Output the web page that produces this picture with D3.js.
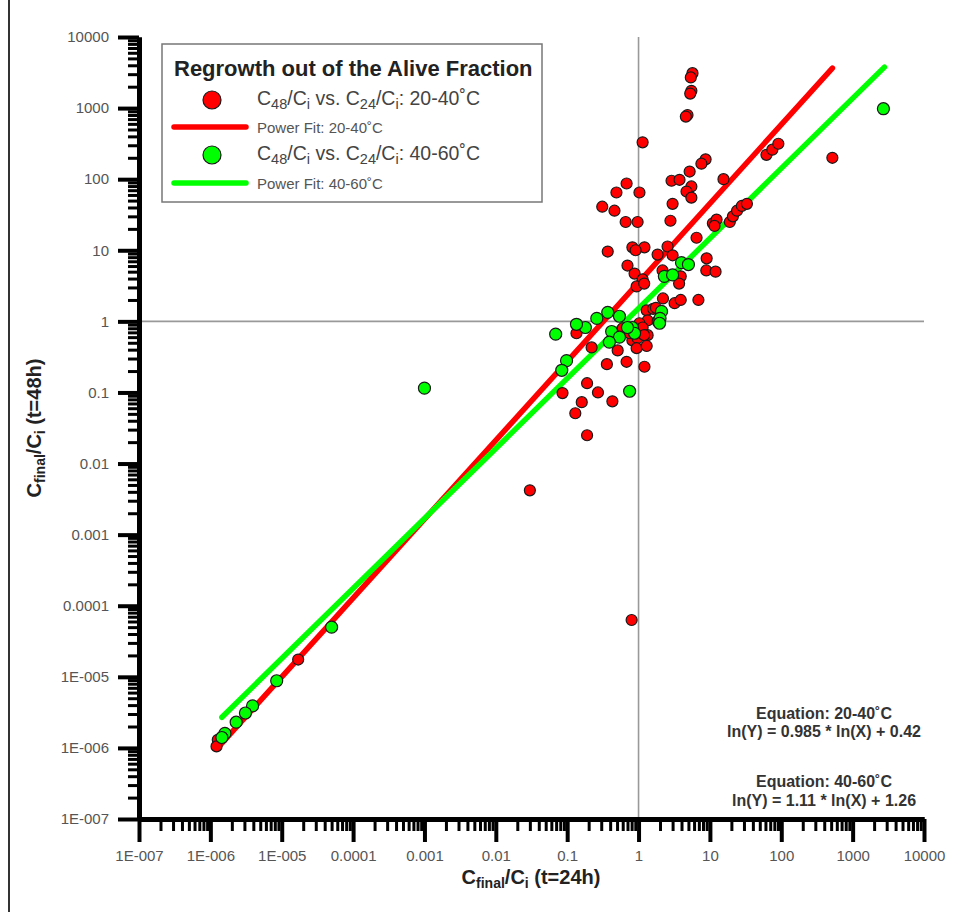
<!DOCTYPE html>
<html>
<head>
  <meta charset="utf-8">
  <title>Regrowth out of the Alive Fraction</title>
  <script src="https://d3js.org/d3.v7.min.js"></script>
  <style>
    body { margin: 0; background: #fff; }
    svg text { font-family: Arial, "Liberation Sans", sans-serif; }
    .tick text { fill: #555; font-size: 15px; }
  </style>
</head>
<body>
<svg id="chart" width="957" height="912"></svg>
<script>
  // axis ticks (both axes share the same decades)
  const tickValues = [1e-7, 1e-6, 1e-5, 1e-4, 1e-3, 0.01, 0.1, 1, 10, 100, 1000, 10000];
  const tickLabels = ["1E-007", "1E-006", "1E-005", "0.0001", "0.001", "0.01", "0.1", "1", "10", "100", "1000", "10000"];

  // C24/Ci (x) vs C48/Ci (y), 20-40°C
  const red2040 = [
    [5.7, 3100], [5.4, 2700], [5.5, 1750], [5.3, 1600], [4.85, 800], [4.6, 760], [1.14, 330],
    [8.7, 190], [7.6, 165], [5.2, 128], [2.9, 95], [3.75, 98], [0.68, 87], [0.49, 65], [1.03, 65],
    [5.5, 79], [4.7, 67], [5.5, 55], [0.31, 41], [0.46, 36], [3.0, 45], [0.66, 25], [0.97, 25],
    [2.8, 26], [15.5, 100], [62, 220], [75, 260], [91, 315], [520, 200], [6.5, 15],
    [11, 24], [12.4, 27], [19, 25], [21, 30], [24, 36], [28, 42], [33, 45], [11.6, 22],
    [0.37, 9.6], [0.82, 11], [1.21, 11], [0.91, 10], [1.85, 8.7], [2.55, 11.3], [3.0, 8.5],
    [9.0, 7.7], [8.9, 5.2], [12, 5.0], [0.70, 6.1], [0.88, 4.7], [2.17, 5.2], [3.9, 4.3],
    [3.7, 3.4], [1.14, 3.9], [0.94, 3.1], [1.2, 3.4], [2.2, 2.1], [3.2, 1.8], [3.9, 2.0],
    [6.9, 2.0], [1.3, 1.43], [1.6, 1.5], [1.34, 1.03], [1.75, 1.55], [1.85, 1.0], [1.03, 0.94],
    [1.14, 0.82], [1.34, 0.64], [0.82, 0.54], [0.75, 0.68], [0.6, 0.8], [0.97, 0.58], [1.2, 0.64],
    [0.135, 0.68], [0.22, 0.43], [0.51, 0.39], [0.94, 0.42], [1.3, 0.45], [0.36, 0.25],
    [0.68, 0.27], [1.21, 0.23], [0.19, 0.135], [0.086, 0.098], [0.27, 0.10], [0.16, 0.073],
    [0.43, 0.075], [0.13, 0.051], [0.19, 0.025], [0.03, 0.0042], [0.8, 6.3e-5],
    [1.7e-5, 1.75e-5], [1.27e-6, 1.3e-6], [1.22e-6, 1.05e-6]
  ];

  // 40-60°C
  const green4060 = [
    [2700, 980], [4.0, 6.7], [5.0, 6.3], [2.3, 4.3], [3.0, 4.5], [2.1, 1.38], [2.0, 1.1],
    [1.97, 0.94], [0.82, 0.82], [0.88, 0.68], [0.54, 1.18], [0.37, 1.34], [0.26, 1.1],
    [0.18, 0.82], [0.135, 0.91], [0.069, 0.66], [0.42, 0.72], [0.54, 0.6], [0.39, 0.51],
    [0.098, 0.28], [0.084, 0.205], [0.75, 0.104], [0.7, 0.82], [0.001, 0.115], [5e-5, 5e-5],
    [8.5e-6, 8.8e-6], [3.9e-6, 3.9e-6], [3.1e-6, 3.1e-6], [2.3e-6, 2.3e-6], [1.6e-6, 1.6e-6],
    [1.45e-6, 1.4e-6]
  ];

  // power fits as drawn: ln(Y) = slope * ln(X) + icpt, over the x range of each series
  const fitRed = { slope: 1.11, icpt: 1.26, xRange: [1.23e-6, 521] };
  const fitGreen = { slope: 0.985, icpt: 0.42, xRange: [1.45e-6, 2790] };

  const legendTitle = "Regrowth out of the Alive Fraction";
  const legendLabels = [
    "C_{48}/C_{i} vs. C_{24}/C_{i}: 20-40˚C",
    "Power Fit: 20-40˚C",
    "C_{48}/C_{i} vs. C_{24}/C_{i}: 40-60˚C",
    "Power Fit: 40-60˚C"
  ];
  const equations = [
    ["Equation: 20-40˚C", "ln(Y) = 0.985 * ln(X) + 0.42"],
    ["Equation: 40-60˚C", "ln(Y) = 1.11 * ln(X) + 1.26"]
  ];
  const xTitle = "C_{final}/C_{i} (t=24h)";
  const yTitle = "C_{final}/C_{i} (t=48h)";

  const svg = d3.select("#chart");

  const x = d3.scaleLog().domain([1e-7, 1e4]).range([139, 924]);
  const y = d3.scaleLog().domain([1e-7, 1e4]).range([819, 37]);

  // minor ticks 2..9 in every decade
  const minorTicks = [];
  tickValues.slice(0, -1).forEach(d => {
    for (let m = 2; m <= 9; m++) minorTicks.push(d * m);
  });

  // 左边框
  svg.append("line")
    .attr("x1", 9).attr("x2", 9).attr("y1", 0).attr("y2", 912)
    .attr("stroke", "#333").attr("stroke-width", 2);

  // reference lines at 1
  svg.append("line")
    .attr("x1", x(1)).attr("x2", x(1)).attr("y1", y(1e4)).attr("y2", y(1e-7))
    .attr("stroke", "#999").attr("stroke-width", 1.6);
  svg.append("line")
    .attr("x1", x(1e-7)).attr("x2", x(1e4)).attr("y1", y(1)).attr("y2", y(1))
    .attr("stroke", "#999").attr("stroke-width", 1.6);

  // axes
  function styleAxis(g, w) {
    g.selectAll(".tick line").attr("stroke", "#000").attr("stroke-width", w);
    g.select(".domain").attr("stroke", "#000").attr("stroke-width", 5);
  }

  const xMinor = svg.append("g").attr("transform", `translate(0,${y(1e-7)})`)
    .call(d3.axisBottom(x).tickValues(minorTicks).tickSize(12).tickSizeOuter(0).tickFormat(""));
  styleAxis(xMinor, 3);
  const yMinor = svg.append("g").attr("transform", `translate(${x(1e-7)},0)`)
    .call(d3.axisLeft(y).tickValues(minorTicks).tickSize(11).tickSizeOuter(0).tickFormat(""));
  styleAxis(yMinor, 3);

  const xAxis = svg.append("g").attr("transform", `translate(0,${y(1e-7)})`)
    .call(d3.axisBottom(x).tickValues(tickValues).tickSize(23).tickSizeOuter(0)
      .tickPadding(8).tickFormat((d, i) => tickLabels[i]));
  styleAxis(xAxis, 4);
  const yAxis = svg.append("g").attr("transform", `translate(${x(1e-7)},0)`)
    .call(d3.axisLeft(y).tickValues(tickValues).tickSize(21).tickSizeOuter(0)
      .tickPadding(9).tickFormat((d, i) => tickLabels[i]));
  styleAxis(yAxis, 4);
  svg.selectAll(".tick text").attr("font-family", null);

  // text with _{sub} parts
  function richText(sel, str, subSize, shift) {
    const parts = str.split(/_\{([^}]*)\}/);
    let down = false;
    parts.forEach((p, i) => {
      if (p === "") return;
      const isSub = i % 2 === 1;
      const t = sel.append("tspan").text(p);
      if (isSub) {
        t.attr("font-size", subSize);
        if (!down) { t.attr("dy", shift); down = true; }
      } else if (down) {
        t.attr("dy", -shift); down = false;
      }
    });
  }

  // fit lines
  function fitLine(fit, color) {
    const pts = fit.xRange.map(v => [v, Math.exp(fit.slope * Math.log(v) + fit.icpt)]);
    svg.append("path")
      .attr("d", d3.line().x(d => x(d[0])).y(d => y(d[1]))(pts))
      .attr("stroke", color).attr("stroke-width", 5.5).attr("fill", "none")
      .attr("stroke-linecap", "round");
  }
  fitLine(fitRed, "#ff0000");
  fitLine(fitGreen, "#00ff00");

  // points
  svg.append("g").selectAll("circle").data(red2040).join("circle")
    .attr("cx", d => x(d[0])).attr("cy", d => y(d[1])).attr("r", 5.5)
    .attr("fill", "#ff0000").attr("stroke", "#1a1a1a").attr("stroke-width", 1.2);
  svg.append("g").selectAll("circle").data(green4060).join("circle")
    .attr("cx", d => x(d[0])).attr("cy", d => y(d[1])).attr("r", 6)
    .attr("fill", "#00ff00").attr("stroke", "#1a1a1a").attr("stroke-width", 1.2);

  // legend
  const lg = svg.append("g");
  lg.append("rect").attr("x", 162).attr("y", 44).attr("width", 380).attr("height", 158)
    .attr("fill", "#fff").attr("stroke", "#777").attr("stroke-width", 1.5);
  lg.append("text").attr("x", 174).attr("y", 76)
    .attr("font-size", 22).attr("font-weight", "bold").attr("fill", "#222").text(legendTitle);
  const rowY = [100, 127, 155, 183];
  const rowColor = ["#ff0000", "#ff0000", "#00ff00", "#00ff00"];
  legendLabels.forEach((lab, i) => {
    if (i % 2 === 0) {
      lg.append("circle").attr("cx", 212).attr("cy", rowY[i]).attr("r", 9)
        .attr("fill", rowColor[i]).attr("stroke", "#1a1a1a").attr("stroke-width", 1.2);
      const t = lg.append("text").attr("x", 257).attr("y", rowY[i] + 5)
        .attr("font-size", 19.5).attr("fill", "#444");
      richText(t, lab, 14.5, 4);
    } else {
      lg.append("line").attr("x1", 174).attr("x2", 246).attr("y1", rowY[i]).attr("y2", rowY[i])
        .attr("stroke", rowColor[i]).attr("stroke-width", 5.5).attr("stroke-linecap", "round");
      lg.append("text").attr("x", 257).attr("y", rowY[i] + 6)
        .attr("font-size", 15).attr("fill", "#555").text(lab);
    }
  });

  // equations
  const eqY = [[719, 737], [787, 806]];
  equations.forEach((eq, i) => {
    eq.forEach((line, j) => {
      svg.append("text").attr("x", 824).attr("y", eqY[i][j])
        .attr("text-anchor", "middle").attr("font-size", 16).attr("font-weight", "bold")
        .attr("fill", "#333").text(line);
    });
  });

  // axis titles
  const xt = svg.append("text").attr("x", 531).attr("y", 884).attr("text-anchor", "middle")
    .attr("font-size", 20).attr("font-weight", "bold").attr("fill", "#222");
  richText(xt, xTitle, 14, 4);
  const yt = svg.append("text").attr("transform", "translate(41,428) rotate(-90)")
    .attr("text-anchor", "middle")
    .attr("font-size", 20).attr("font-weight", "bold").attr("fill", "#222");
  richText(yt, yTitle, 14, 4);
</script>
</body>
</html>
